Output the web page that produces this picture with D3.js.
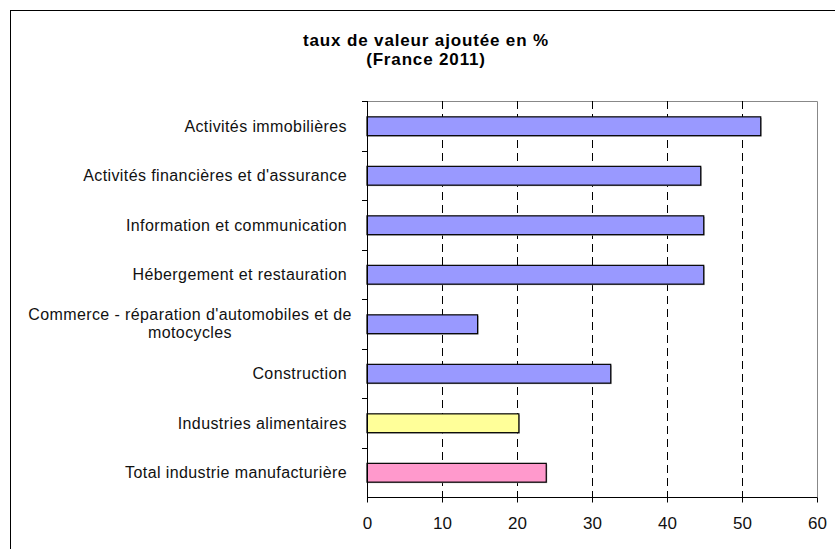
<!DOCTYPE html>
<html>
<head>
<meta charset="utf-8">
<script src="https://cdn.jsdelivr.net/npm/d3@7"></script>
<style>
	body { margin: 0; background: #fff; }
	svg { display: block; font-family: "Liberation Sans", Arial, sans-serif; }
</style>
</head>
<body>
<div id="chart"></div>
<script>
let w = 835
let h = 549

// data
let categories = [
	"Activités immobilières",
	"Activités financières et d'assurance",
	"Information et communication",
	"Hébergement et restauration",
	"Commerce - réparation d'automobiles et de|motocycles",
	"Construction",
	"Industries alimentaires",
	"Total industrie manufacturière"
]
let values = [52.5, 44.5, 44.9, 44.9, 14.75, 32.5, 20.25, 23.9]
let colors = ["#9999ff", "#9999ff", "#9999ff", "#9999ff", "#9999ff", "#9999ff", "#ffff99", "#ff99cc"]
let xTicks = [0, 10, 20, 30, 40, 50, 60]
let titleLines = ["taux de valeur ajoutée en %", "(France 2011)"]

let pLeft = 367, pRight = 817, pTop = 101, pBottom = 497

let svg = d3.select("#chart")
	.append("svg")
	.attr("width", w)
	.attr("height", h)

// outer frame (runs off the picture at right and bottom)
svg.append("rect")
	.attr("x", 10.5)
	.attr("y", 10.5)
	.attr("width", w)
	.attr("height", h)
	.attr("fill", "none")
	.attr("stroke", "#000")

let title = svg.append("text")
	.attr("text-anchor", "middle")
	.attr("font-weight", "bold")
	.attr("font-size", 17)
	.attr("letter-spacing", 0.85)
	.attr("fill", "#000")
title.selectAll("tspan")
	.data(titleLines)
	.join("tspan")
	.attr("x", 426)
	.attr("y", (d, i) => 46 + i * 18.5)
	.text(d => d)

let x = d3.scaleLinear()
	.domain([0, 60])
	.range([pLeft, pRight])

let y = d3.scaleBand()
	.domain(categories)
	.range([pTop, pBottom])
	.paddingInner(0.62)
	.paddingOuter(0.31)

let band = d3.scaleBand()
	.domain(categories)
	.range([pTop, pBottom])

// plot area frame: top and right in grey
svg.append("path")
	.attr("d", `M${pLeft},${pTop + 0.5}H${pRight + 0.5}V${pBottom}`)
	.attr("fill", "none")
	.attr("stroke", "#888")

// dashed gridlines
svg.append("g")
	.selectAll("line")
	.data(xTicks.filter(d => d > 0 && d < 60))
	.join("line")
	.attr("x1", d => Math.round(x(d)) + 0.5)
	.attr("x2", d => Math.round(x(d)) + 0.5)
	.attr("y1", pTop)
	.attr("y2", pBottom)
	.attr("stroke", "#000")
	.attr("stroke-dasharray", "8,5")

// bars with a faint shadow
let bars = svg.append("g")
bars.selectAll("rect.shadow")
	.data(values)
	.join("rect")
	.attr("class", "shadow")
	.attr("x", x(0) + 1)
	.attr("y", (d, i) => y(categories[i]) + 1.5)
	.attr("width", d => x(d) - x(0))
	.attr("height", y.bandwidth())
	.attr("fill", "#aaa")
bars.selectAll("rect.bar")
	.data(values)
	.join("rect")
	.attr("class", "bar")
	.attr("x", x(0))
	.attr("y", (d, i) => y(categories[i]) + 0.5)
	.attr("width", d => x(d) - x(0))
	.attr("height", y.bandwidth())
	.attr("fill", (d, i) => colors[i])
	.attr("stroke", "#000")
	.attr("stroke-width", 1.2)

// category axis: line + boundary ticks
let yAxis = svg.append("g")
yAxis.append("line")
	.attr("x1", pLeft + 0.5).attr("x2", pLeft + 0.5)
	.attr("y1", pTop).attr("y2", pBottom + 4)
	.attr("stroke", "#000")
yAxis.selectAll("line.tick")
	.data(categories)
	.join("line")
	.attr("class", "tick")
	.attr("x1", pLeft - 5).attr("x2", pLeft)
	.attr("y1", d => Math.round(band(d)) + 0.5)
	.attr("y2", d => Math.round(band(d)) + 0.5)
	.attr("stroke", "#000")

yAxis.selectAll("text")
	.data(categories)
	.join("text")
	.attr("font-size", 16)
	.attr("letter-spacing", 0.4)
	.attr("fill", "#111")
	.each(function(d) {
		let lines = d.split("|")
		let cy = band(d) + band.bandwidth() / 2
		let t = d3.select(this)
		if (lines.length == 1) {
			t.attr("text-anchor", "end")
				.attr("x", pLeft - 20)
				.attr("y", cy + 6)
				.text(d)
		} else {
			t.attr("text-anchor", "middle")
			lines.forEach((l, i) => {
				t.append("tspan")
					.attr("x", 190)
					.attr("y", cy - 3.5 + i * 18)
					.text(l)
			})
		}
	})

// value axis
let xAxis = d3.axisBottom(x)
	.tickValues(xTicks)
	.tickSize(5)
	.tickPadding(14)
svg.append("g")
	.attr("transform", "translate(0," + (pBottom + 0.5) + ")")
	.call(xAxis)
	.call(g => g.select(".domain").attr("d", `M${pLeft},0H${pRight + 0.5}`))
	.call(g => g.selectAll("text").attr("font-size", 17).attr("font-family", "Liberation Sans, Arial, sans-serif").attr("fill", "#111"))
</script>
</body>
</html>
